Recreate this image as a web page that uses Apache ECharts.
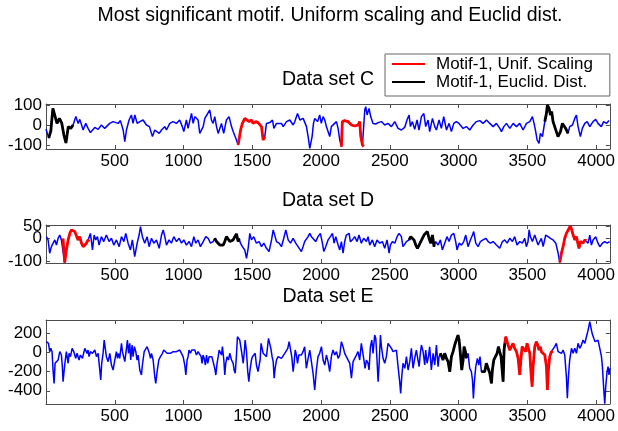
<!DOCTYPE html>
<html>
<head>
<meta charset="utf-8">
<script src="https://cdn.jsdelivr.net/npm/echarts@6/dist/echarts.min.js"></script>
<style>html,body{margin:0;padding:0;background:#fff;}#chart{width:618px;height:431px;}</style>
</head>
<body>
<div id="chart"></div>
<script>
// ---------------- data ----------------
const mainTitle = 'Most significant motif. Uniform scaling and Euclid dist.';
const panelTitles = ['Data set C', 'Data set D', 'Data set E'];
const legendNames = ['Motif-1, Unif. Scaling', 'Motif-1, Euclid. Dist.'];
const xTicks = [500, 1000, 1500, 2000, 2500, 3000, 3500, 4000];
const cYTicks = [-100, 0, 100];
const dYTicks = [-100, 0, 50];
const eYTicks = [-400, -200, 0, 200];

const cX = [0,20,35,50,60,80,98,115,130,145,162,180,197,217,234,246,270,289,306,323,355,379,403,427,463,488,524,541,561,573,585,604,621,633,646,663,682,706,730,752,774,791,803,823,840,864,876,900,924,948,972,991,1002,1021,1033,1058,1070,1082,1106,1118,1143,1155,1191,1203,1215,1227,1240,1252,1276,1292,1312,1331,1349,1361,1385,1397,1415,1428,1446,1458,1477,1494,1506,1525,1542,1555,1567,1579,1591,1603,1627,1647,1657,1676,1712,1725,1749,1773,1797,1809,1829,1846,1870,1894,1908,1918,1935,1945,1954,1975,1990,2002,2015,2027,2039,2063,2075,2087,2112,2124,2136,2148,2155,2172,2196,2209,2221,2245,2269,2281,2289,2301,2310,2318,2325,2335,2349,2361,2378,2398,2415,2439,2463,2487,2512,2536,2560,2584,2608,2625,2640,2650,2664,2681,2698,2712,2730,2747,2761,2778,2790,2810,2827,2839,2858,2875,2892,2912,2931,2948,2965,2984,3003,3033,3057,3081,3106,3130,3154,3178,3203,3227,3251,3275,3300,3312,3329,3348,3373,3397,3421,3445,3469,3494,3518,3537,3549,3561,3571,3585,3595,3610,3627,3639,3646,3658,3668,3677,3687,3699,3711,3723,3731,3741,3755,3767,3779,3796,3808,3828,3845,3857,3869,3886,3900,3918,3935,3954,3978,3997,4014,4038,4055,4075,4094];
const cY = [-20,-65,-30,83,90,8,33,8,-50,-90,-8,-17,0,42,8,28,-25,8,-17,-38,-12,-22,0,-17,8,17,8,22,-25,-83,-25,25,50,8,50,8,17,25,0,-8,-58,-25,-17,-42,-25,-8,-25,8,17,8,25,-8,-33,25,-17,58,8,42,25,-42,-8,33,75,25,8,42,-8,-42,8,-42,25,42,-8,-33,-75,-100,-25,8,33,42,17,25,8,17,12,17,-8,-75,-58,8,12,25,-17,8,8,-8,17,25,0,17,58,25,33,-8,-67,-117,-58,8,33,17,50,8,42,25,-8,-58,-8,0,17,-17,-75,-108,17,22,17,8,0,-5,0,17,-58,-100,-108,75,92,50,83,42,8,5,12,17,0,8,-8,17,-17,-25,-12,25,50,-8,17,-22,25,-25,42,58,-8,25,-33,33,-8,-25,25,-17,42,-25,8,-33,8,17,8,-17,-8,-25,0,17,22,8,25,8,-8,8,-17,-33,-8,8,-17,8,-8,8,-25,8,17,42,8,-33,-75,-92,-42,-58,17,58,100,83,50,67,17,-8,-17,-58,-67,-33,8,17,-17,-42,-8,0,33,50,-8,-58,-17,8,17,-8,17,28,8,-8,17,8,22];
const cRed = [[1397, 1591], [2148, 2310]];
const cBlack = [[20, 197], [3627, 3796]];

const dX = [3,15,27,39,52,64,76,88,100,112,124,136,148,161,173,185,197,209,221,233,245,258,270,282,294,306,313,323,338,350,362,374,386,403,420,439,459,476,493,512,532,549,566,580,597,614,628,645,663,677,687,701,718,735,750,767,784,803,823,840,852,864,876,895,912,929,949,968,985,1002,1021,1041,1058,1075,1089,1106,1123,1143,1162,1179,1196,1215,1227,1240,1252,1264,1276,1288,1300,1312,1325,1337,1349,1361,1373,1385,1397,1404,1414,1428,1445,1458,1470,1482,1494,1511,1530,1550,1567,1584,1603,1622,1640,1652,1664,1676,1695,1712,1729,1744,1761,1778,1797,1816,1833,1845,1857,1869,1881,1906,1918,1930,1942,1961,1978,1995,2010,2020,2034,2051,2068,2083,2095,2107,2124,2136,2148,2160,2172,2184,2204,2213,2228,2245,2262,2276,2293,2310,2330,2342,2354,2373,2390,2407,2427,2446,2463,2480,2495,2504,2519,2536,2553,2567,2584,2596,2609,2621,2640,2652,2664,2676,2689,2701,2713,2725,2737,2749,2761,2773,2785,2798,2810,2822,2834,2851,2868,2882,2899,2916,2931,2948,2965,2979,2989,3004,3021,3038,3052,3069,3086,3101,3110,3125,3142,3159,3178,3198,3215,3232,3251,3275,3299,3319,3336,3353,3372,3392,3408,3425,3445,3464,3481,3493,3505,3513,3522,3537,3554,3566,3578,3590,3602,3615,3634,3651,3668,3687,3707,3724,3736,3748,3760,3772,3784,3804,3813,3823,3833,3845,3857,3867,3876,3886,3896,3905,3918,3930,3942,3954,3966,3978,3997,4014,4027,4046,4063,4080,4099];
const dY = [7,-7,-64,-36,-21,-7,-29,0,14,-7,0,-104,-50,-7,21,36,29,29,21,-7,7,-21,-36,-29,-21,-7,-14,21,-50,14,-7,7,-29,7,-14,14,-14,0,-29,-7,-36,7,-14,21,-21,-50,-7,-79,-21,14,50,7,-21,7,-36,0,-21,-7,-43,14,36,7,-29,-7,-21,7,-14,0,-21,-7,-29,-14,-36,7,-21,-7,-36,-14,7,0,-21,-14,0,-14,-21,-29,-36,-29,-14,7,14,-14,-21,-7,7,19,-14,0,-21,-36,-50,-86,-43,21,-7,7,-21,-14,-36,-21,-43,-57,-7,36,43,-14,-21,-36,0,36,-7,-21,0,-21,-36,-43,-57,-36,-14,7,21,7,14,-14,7,21,-21,-57,-36,-7,7,21,-21,7,-29,-50,-14,-64,-14,14,21,-14,-7,7,-14,14,-21,0,-14,7,-29,-7,-36,-7,-21,-14,-43,-7,-64,-29,-14,-21,7,21,7,-36,-29,-14,-7,7,14,-7,-29,-43,-29,-14,0,14,21,29,0,-21,14,-36,-14,-29,-7,-50,-21,7,-14,14,21,-14,-50,-21,-29,-14,14,-36,-7,14,29,-21,-36,-14,-7,0,-14,-21,-14,-29,-43,-14,-7,-21,0,-14,7,-29,-14,-21,0,-36,-14,36,7,-14,14,7,-29,-14,0,-36,14,7,0,-7,-21,-64,-104,-64,-36,0,21,43,53,36,14,-7,7,-21,-43,-14,-7,-21,-7,-10,-21,14,-29,-7,7,-21,-36,-21,-14,-21,-14];
const dRed = [[124, 313], [3736, 3930]];
const dBlack = [[1227, 1404], [2640, 2822]];

const eX = [3,10,18,27,35,44,52,59,66,76,88,100,112,119,124,136,148,161,168,178,190,202,216,226,240,250,265,282,299,306,313,323,338,355,367,379,391,398,405,415,423,430,439,452,464,476,488,500,512,520,527,536,549,556,566,573,585,592,600,609,616,626,633,643,653,662,670,682,694,701,714,723,735,748,760,767,779,791,798,808,820,832,847,856,869,881,893,905,912,924,936,948,961,973,985,997,1009,1017,1026,1033,1040,1050,1060,1070,1082,1094,1106,1118,1128,1135,1142,1150,1159,1167,1176,1186,1196,1206,1215,1227,1235,1244,1252,1259,1269,1276,1283,1293,1300,1307,1317,1327,1336,1349,1361,1368,1376,1385,1392,1400,1409,1417,1424,1434,1441,1448,1458,1467,1475,1482,1494,1501,1511,1521,1530,1542,1550,1557,1564,1572,1579,1591,1603,1610,1618,1627,1635,1644,1652,1659,1666,1676,1688,1700,1712,1724,1736,1749,1758,1768,1778,1787,1797,1804,1812,1821,1829,1838,1845,1857,1869,1881,1893,1906,1918,1930,1942,1954,1966,1978,1990,2003,2015,2027,2039,2051,2063,2075,2087,2100,2112,2124,2136,2148,2160,2172,2184,2196,2209,2221,2233,2245,2257,2269,2281,2293,2301,2310,2320,2330,2342,2349,2359,2369,2378,2390,2398,2407,2415,2422,2432,2439,2451,2463,2475,2487,2499,2512,2524,2536,2548,2560,2572,2579,2587,2596,2609,2621,2633,2645,2657,2669,2681,2693,2706,2713,2722,2730,2742,2754,2761,2771,2781,2790,2802,2815,2827,2839,2851,2858,2868,2875,2887,2899,2912,2924,2936,2948,2960,2972,2984,2996,3004,3013,3023,3033,3040,3050,3057,3069,3081,3093,3101,3108,3115,3125,3137,3147,3156,3166,3178,3190,3202,3215,3227,3239,3246,3256,3268,3280,3290,3299,3309,3316,3324,3331,3336,3343,3353,3360,3372,3384,3396,3408,3421,3433,3445,3452,3462,3474,3488,3498,3508,3518,3527,3535,3542,3554,3566,3576,3585,3595,3602,3615,3627,3639,3646,3653,3663,3675,3687,3699,3711,3724,3736,3748,3760,3772,3784,3791,3799,3808,3821,3833,3845,3857,3869,3881,3893,3905,3918,3930,3942,3954,3961,3971,3983,3993,4002,4014,4027,4039,4046,4056,4063,4070,4080,4087,4094,4099];
const eY = [111,121,94,7,42,7,-201,-323,-114,-97,-80,7,-28,-149,-305,-132,7,-114,-10,-45,42,7,-62,-10,-80,-28,-62,42,-10,24,-45,7,-10,24,-45,-10,-184,-288,-114,-10,128,111,-45,-97,-10,-132,-184,-80,7,-62,-10,-62,94,7,24,-97,42,128,-10,94,-80,76,-45,59,7,-80,-28,-184,-236,-132,7,7,59,7,-62,-10,-80,-253,-323,-201,-80,-45,-10,24,7,-10,-10,-10,7,7,-10,7,7,24,-10,-45,-132,-236,-80,-45,24,-10,24,7,24,-28,7,-10,-45,-114,-28,-62,-132,-28,-114,-45,-62,-45,-62,-166,-236,-114,-45,24,42,-28,59,-80,-236,-114,-45,-80,-10,-80,-114,-184,-218,-28,163,180,128,111,-10,-114,-10,128,7,-201,-305,-201,-80,-45,-62,-10,-132,-201,-132,-80,94,111,-10,-28,-45,-62,146,128,42,-45,-97,-270,-166,-80,-45,-62,-62,-45,-10,7,42,111,128,-45,-201,-114,24,-28,-114,-28,-45,-28,7,59,-166,-62,24,42,-218,-392,-184,-45,-10,59,-80,-132,-28,-97,-201,-45,24,-28,7,-62,-28,111,59,-10,-45,-28,-114,-270,-97,-62,-28,7,-80,94,111,-62,-166,-80,-114,-184,59,128,-10,180,146,-80,-305,-132,180,59,-62,-114,-45,94,76,42,7,-10,24,-149,-305,-427,-253,-114,-166,-45,-184,-97,42,-166,-62,24,42,-149,-10,76,7,-132,24,-114,-45,59,-184,-10,-132,76,-149,-45,-10,7,-80,-10,-62,-97,-201,-45,7,76,128,180,128,-10,-184,-80,59,7,-62,-10,-166,-201,-288,-479,-305,-149,-62,-132,-45,-201,-184,-201,-114,-97,-218,-323,-184,-80,-45,-10,59,7,-45,-166,-305,24,94,163,180,76,24,59,94,42,7,-62,-236,-97,59,76,7,94,94,-10,-218,-357,-149,59,111,76,24,59,7,24,-28,-149,-392,-184,-45,7,7,59,94,7,24,-10,24,-28,-253,-479,-253,-80,42,-10,42,-10,94,42,76,128,94,163,232,319,302,198,146,111,94,128,42,-45,-149,-392,-535,-357,-201,-149,-236,-166];
const eRed = [[3336, 3687]];
const eBlack = [[2868, 3057], [3166, 3336]];

// ---------------- layout ----------------
const FONT = '"Liberation Sans", Arial, Helvetica, sans-serif';
const panels = [
  {x: cX, y: cY, red: cRed, black: cBlack, yTicks: cYTicks, ymin: -120, ymax: 105, top: 104, height: 45, titleY: 80},
  {x: dX, y: dY, red: dRed, black: dBlack, yTicks: dYTicks, ymin: -106, ymax: 57, top: 225, height: 38, titleY: 201},
  {x: eX, y: eY, red: eRed, black: eBlack, yTicks: eYTicks, ymin: -538, ymax: 337, top: 320, height: 84, titleY: 297}
];
const BLUE = '#0000ff', RED = '#ff0000', BLACK = '#000000', AXIS = '#4d4d4d';
const plain = v => String(v);
const labelBase = {fontSize: 17, fontFamily: FONT, color: '#000', margin: 4, formatter: plain, hideOverlap: false};

const grids = [], xAxes = [], yAxes = [], series = [];
panels.forEach((p, i) => {
  grids.push({left: 46, right: 8, top: p.top, height: p.height, containLabel: false});
});
const tickStyle = {show: true, inside: true, length: 4, lineStyle: {color: AXIS, width: 1}};
// bottom x axes
panels.forEach((p, i) => {
  xAxes.push({type: 'value', gridIndex: i, position: 'bottom', min: 0, max: 4100,
    axisLine: {show: true, onZero: false, lineStyle: {color: AXIS, width: 1}},
    axisTick: Object.assign({}, tickStyle, {customValues: xTicks}),
    axisLabel: Object.assign({show: true, customValues: xTicks}, labelBase),
    splitLine: {show: false}});
});
// top x axes
panels.forEach((p, i) => {
  xAxes.push({type: 'value', gridIndex: i, position: 'top', min: 0, max: 4100,
    axisLine: {show: true, onZero: false, lineStyle: {color: AXIS, width: 1}},
    axisTick: Object.assign({}, tickStyle, {customValues: xTicks}),
    axisLabel: {show: false}, splitLine: {show: false}});
});
// left y axes (each tick label drawn by its own axis so close labels are all kept)
panels.forEach((p, i) => {
  yAxes.push({type: 'value', gridIndex: i, position: 'left', offset: 0, min: p.ymin, max: p.ymax,
    axisLine: {show: true, onZero: false, lineStyle: {color: AXIS, width: 1}},
    axisTick: Object.assign({}, tickStyle, {customValues: p.yTicks}),
    axisLabel: {show: false},
    splitLine: {show: false}});
});
// right y axes
panels.forEach((p, i) => {
  yAxes.push({type: 'value', gridIndex: i, position: 'right', min: p.ymin, max: p.ymax,
    axisLine: {show: true, onZero: false, lineStyle: {color: AXIS, width: 1}},
    axisTick: Object.assign({}, tickStyle, {customValues: p.yTicks}),
    axisLabel: {show: false}, splitLine: {show: false}});
});
// label-only y axes
panels.forEach((p, i) => {
  p.yTicks.forEach(t => {
    yAxes.push({type: 'value', gridIndex: i, position: 'left', offset: 0, min: p.ymin, max: p.ymax,
      axisLine: {show: false, onZero: false}, axisTick: {show: false},
      axisLabel: Object.assign({show: true, customValues: [t], showMinLabel: true, showMaxLabel: true}, labelBase),
      splitLine: {show: false}});
  });
});

function pairs(xs, ys, lo, hi) {
  const out = [];
  for (let k = 0; k < xs.length; k++) {
    if (xs[k] >= lo && xs[k] <= hi) out.push([xs[k], ys[k]]);
  }
  return out;
}
panels.forEach((p, i) => {
  series.push({type: 'line', name: 'signal', xAxisIndex: i, yAxisIndex: i, data: pairs(p.x, p.y, -Infinity, Infinity),
    showSymbol: false, symbol: 'none', lineStyle: {color: BLUE, width: 1.5}, itemStyle: {color: BLUE}, z: 2});
  p.red.forEach(r => {
    series.push({type: 'line', name: legendNames[0], xAxisIndex: i, yAxisIndex: i, data: pairs(p.x, p.y, r[0], r[1]),
      showSymbol: false, symbol: 'none', lineStyle: {color: RED, width: 2.8}, itemStyle: {color: RED}, z: 3});
  });
  p.black.forEach(r => {
    series.push({type: 'line', name: legendNames[1], xAxisIndex: i, yAxisIndex: i, data: pairs(p.x, p.y, r[0], r[1]),
      showSymbol: false, symbol: 'none', lineStyle: {color: BLACK, width: 2.8}, itemStyle: {color: BLACK}, z: 3});
  });
});

const graphics = [{type: 'text', x: 330, y: 16, style: {text: mainTitle, align: 'center', verticalAlign: 'middle', font: '19.5px ' + FONT, fill: '#000'}}];
panels.forEach((p, i) => {
  graphics.push({type: 'text', x: 328, y: p.titleY, style: {text: panelTitles[i], align: 'center', verticalAlign: 'middle', font: '19.5px ' + FONT, fill: '#000'}});
});

const chart = echarts.init(document.getElementById('chart'), null, {renderer: 'canvas'});
chart.setOption({
  animation: false,
  backgroundColor: '#fff',
  grid: grids,
  xAxis: xAxes,
  yAxis: yAxes,
  legend: {
    data: legendNames, orient: 'vertical', left: 385, top: 54,
    icon: 'rect', itemWidth: 33, itemHeight: 2, itemGap: 0,
    backgroundColor: '#fff', borderColor: '#666', borderWidth: 1,
    padding: [1, 17, 5, 7], selectedMode: false,
    textStyle: {fontSize: 17, fontFamily: FONT, color: '#000', lineHeight: 18, padding: [0, 0, 0, 6]}
  },
  graphic: graphics,
  series: series
});
</script>
</body>
</html>
